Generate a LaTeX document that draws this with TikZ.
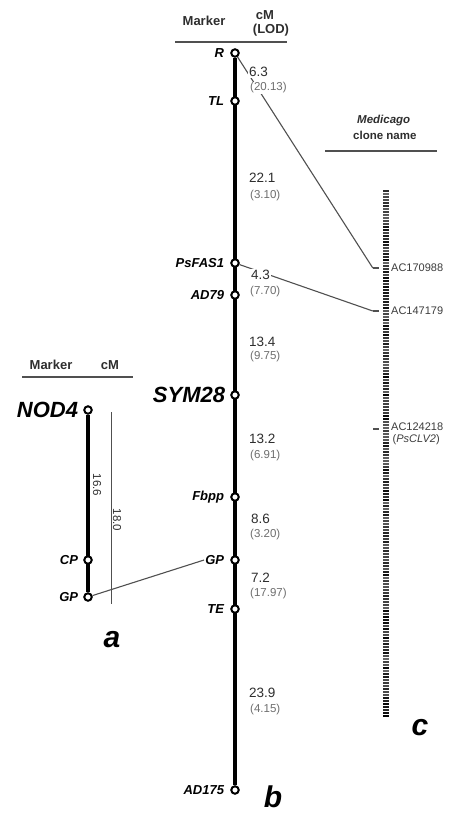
\documentclass[tikz,border=0pt]{standalone}
\usepackage{fontspec}
\setmainfont{Liberation Sans}
\usepackage{xcolor}
\usetikzlibrary{positioning,backgrounds}
\definecolor{DistGray}{HTML}{2E2E2E}
\definecolor{LodGray}{HTML}{6E6E6E}
\definecolor{LinkGray}{HTML}{505050}
\definecolor{CloneGray}{HTML}{3C3C3C}
\tikzset{
  locus/.style={
    circle,
    draw,
    line width=2pt,
    fill=white,
    inner sep=0pt,
    minimum size=7.5pt
  },
  markerlabel/.style={
    inner sep=1pt,
    font=\fontsize{13}{13}\selectfont\bfseries\itshape
  },
  biglabel/.style={
    inner sep=1pt,
    font=\fontsize{22}{22}\selectfont\bfseries\itshape
  },
  headtext/.style={
    inner sep=1pt,
    text=DistGray,
    font=\fontsize{13}{14}\selectfont\bfseries
  },
  disttext/.style={
    anchor=west,
    fill=white,
    inner sep=1pt,
    text=DistGray,
    font=\fontsize{13.5}{14}\selectfont
  },
  lodtext/.style={
    anchor=west,
    fill=white,
    inner sep=1pt,
    text=LodGray,
    font=\fontsize{11.5}{12}\selectfont
  },
  clonetext/.style={
    anchor=west,
    inner sep=1pt,
    text=CloneGray,
    font=\fontsize{11}{11.5}\selectfont
  },
  clonetick/.style={
    fill=LinkGray,
    inner sep=0pt,
    minimum width=6pt,
    minimum height=1.5pt
  },
  panel/.style={font=\fontsize{30}{30}\selectfont\bfseries\itshape},
  chrom/.style={line width=3.8pt},
  headrule/.style={LinkGray, line width=1.3pt},
  link/.style={LinkGray, line width=1.1pt},
  span/.style={LinkGray, line width=0.7pt}
}

\begin{document}
\begin{tikzpicture}[x=1pt,y=-1pt]
  \useasboundingbox (0,0) rectangle (451,814);

  % map a
  \node[headtext] (aMarkerHead) at (51,365) {Marker};
  \node[headtext] (acMHead) at (110,365) {cM};
  \draw[headrule] (22,377) -- (133,377);
  \node[locus] (aNOD4) at (88,410) {};
  \node[locus] (aCP) at (88,560) {};
  \node[locus] (aGP) at (88,597) {};
  \node[biglabel, left=4pt of aNOD4] (aNOD4lab) {NOD4};
  \node[markerlabel, left=4pt of aCP] (aCPlab) {CP};
  \node[markerlabel, left=4pt of aGP] (aGPlab) {GP};
  \node[rotate=-90, text=DistGray, inner sep=1pt,
    font=\fontsize{11.5}{12}\selectfont] (aDist) at (97,485) {16.6};
  \node[rotate=-90, text=DistGray, inner sep=1pt,
    font=\fontsize{11.5}{12}\selectfont] (aSpan) at (117,520) {18.0};
  \coordinate (aSpanTop) at (111,412);
  \coordinate (aSpanBot) at (111,604);
  \node[panel] (aPanel) at (112,640) {a};

  % map b
  \node[headtext] (bMarkerHead) at (204,21) {Marker};
  \node[headtext] (bcMHead) at (265,15) {cM};
  \node[headtext] (bLodHead) at (271,30) {(LOD)};
  \draw[headrule] (175,42) -- (287,42);
  \node[locus] (bR) at (235,53) {};
  \node[locus] (bTL) at (235,101) {};
  \node[locus] (bPsFAS1) at (235,263) {};
  \node[locus] (bAD79) at (235,295) {};
  \node[locus] (bSYM28) at (235,395) {};
  \node[locus] (bFbpp) at (235,497) {};
  \node[locus] (bGP) at (235,560) {};
  \node[locus] (bTE) at (235,609) {};
  \node[locus] (bAD175) at (235,790) {};
  \node[markerlabel, left=5pt of bR] (bRlab) {R};
  \node[markerlabel, left=5pt of bTL] (bTLlab) {TL};
  \node[markerlabel, left=5pt of bPsFAS1] (bPsFAS1lab) {PsFAS1};
  \node[markerlabel, left=5pt of bAD79] (bAD79lab) {AD79};
  \node[biglabel, left=4pt of bSYM28] (bSYM28lab) {SYM28};
  \node[markerlabel, left=5pt of bFbpp] (bFbpplab) {Fbpp};
  \node[markerlabel, left=5pt of bGP] (bGPlab) {GP};
  \node[markerlabel, left=5pt of bTE] (bTElab) {TE};
  \node[markerlabel, left=5pt of bAD175] (bAD175lab) {AD175};
  \node[panel] (bPanel) at (273,797) {b};

  % map c
  \node[headtext, anchor=west, font=\fontsize{11.5}{12}\selectfont\bfseries\itshape]
    (cHead1) at (356,121) {Medicago};
  \node[headtext, anchor=west, font=\fontsize{11.5}{12}\selectfont\bfseries]
    (cHead2) at (352,135) {clone name};
  \draw[headrule] (325,151) -- (437,151);
  \pgfmathsetseed{31}
  \foreach \k in {0,...,175} {
    \pgfmathsetmacro{\shade}{int(60+40*rnd)}
    \fill[black!\shade] (383,190+3*\k) rectangle (388.5,192.1+3*\k);
  }
  \node[clonetick] (k170988) at (376,268) {};
  \node[clonetick] (k147179) at (376,311) {};
  \node[clonetick] (k124218) at (376,429) {};
  \node[clonetext] (c170988) at (390,268) {AC170988};
  \node[clonetext] (c147179) at (390,311) {AC147179};
  \node[clonetext, align=left] (c124218) at (390,434)
    {AC124218\\\hspace*{1.5pt}(\textit{PsCLV2})};
  \node[panel] (cPanel) at (420,728) {c};

  % chromosomes and links go under the labels
  \begin{scope}[on background layer]
    \draw[chrom] (aNOD4) -- (aGP);
    \draw[chrom] (bR) -- (bAD175);
    \draw[span] (aSpanTop) -- (aSpanBot);
    \draw[link] (aGP) -- (bGPlab.west);
    \draw[link] (bR) -- (k170988.west);
    \draw[link] (bPsFAS1) -- (k147179.west);
  \end{scope}

  % distances (cM) and LOD
  \node[disttext] (bD1) at (248,72) {6.3};
  \node[lodtext] (bL1) at (249,88) {(20.13)};
  \node[disttext] (bD2) at (248,178) {22.1};
  \node[lodtext] (bL2) at (249,196) {(3.10)};
  \node[disttext] (bD3) at (250,275) {4.3};
  \node[lodtext] (bL3) at (249,292) {(7.70)};
  \node[disttext] (bD4) at (248,342) {13.4};
  \node[lodtext] (bL4) at (249,357) {(9.75)};
  \node[disttext] (bD5) at (248,439) {13.2};
  \node[lodtext] (bL5) at (249,456) {(6.91)};
  \node[disttext] (bD6) at (250,519) {8.6};
  \node[lodtext] (bL6) at (249,535) {(3.20)};
  \node[disttext] (bD7) at (250,578) {7.2};
  \node[lodtext] (bL7) at (249,594) {(17.97)};
  \node[disttext] (bD8) at (248,693) {23.9};
  \node[lodtext] (bL8) at (249,710) {(4.15)};
\end{tikzpicture}
\end{document}
